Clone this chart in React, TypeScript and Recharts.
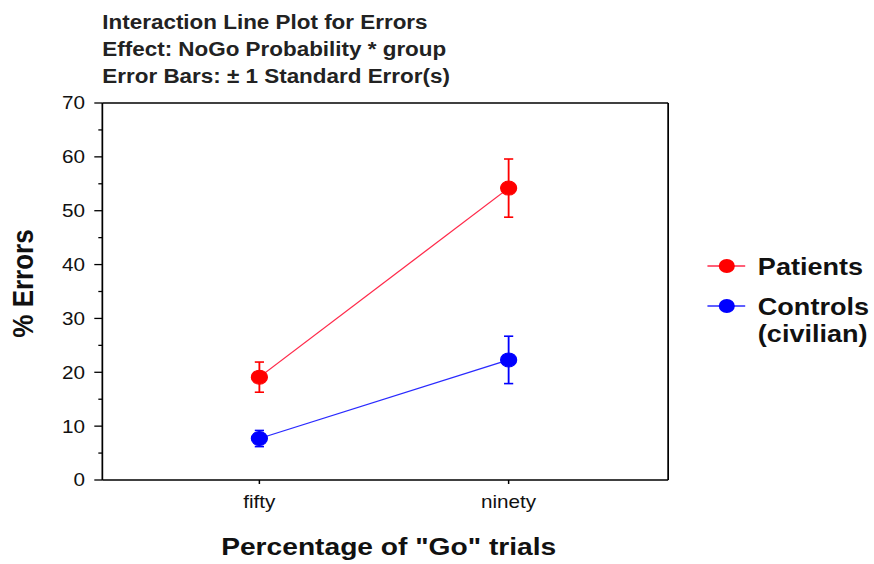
import React from 'react';
import { LineChart, Line, XAxis, YAxis, ErrorBar, Legend, Label } from 'recharts';

// the reference is a horizontally stretched picture, so the chart is drawn narrower and scaled in x
const STRETCH = 1.15;
const W = 874 / STRETCH;
const H = 564;

const categories = ['fifty', 'ninety'];
const categoryPos = [1, 2];
const patientsMean = [19.1, 54.2];
const patientsSE = [2.8, 5.4];
const controlsMean = [7.7, 22.3];
const controlsSE = [1.5, 4.4];
const yTicks = [0, 5, 10, 15, 20, 25, 30, 35, 40, 45, 50, 55, 60, 65, 70];
const seriesNames = ['Patients', 'Controls (civilian)'];
const seriesColors = ['#ff0000', '#0000ff'];
const lineColors = ['#ff2a4a', '#2a2aff'];
const titleLines = [
  'Interaction Line Plot for Errors',
  'Effect: NoGo Probability * group',
  'Error Bars: \u00b1 1 Standard Error(s)',
];

const data = categories.map((c, i) => ({
  x: categoryPos[i],
  name: c,
  patients: patientsMean[i],
  patientsErr: patientsSE[i],
  controls: controlsMean[i],
  controlsErr: controlsSE[i],
}));

const FONT = '"Liberation Sans", Arial, sans-serif';

const LeftTick = (props: any) => {
  const { x, y, payload } = props;
  const major = payload.value % 10 === 0;
  return (
    <g>
      <line x1={x - (major ? 7 : 3.5)} x2={x} y1={y} y2={y} stroke="#000" strokeWidth={1.3} />
      {major && (
        <text x={x - 15} y={y} dy={6.5} textAnchor="end" fontSize={18} fill="#111" fontFamily={FONT}>
          {payload.value}
        </text>
      )}
    </g>
  );
};

const RightTick = (props: any) => {
  const { x, y, payload } = props;
  const major = payload.value % 10 === 0;
  return <line x1={x} x2={x + (major ? 6 : 3.5)} y1={y} y2={y} stroke="#000" strokeWidth={1.3} />;
};

const LegendBox = () => (
  <div style={{ fontFamily: FONT }}>
    {seriesNames.map((n, i) => (
      <div key={n} style={{ display: 'flex', alignItems: 'flex-start', marginBottom: 13 }}>
        <svg width={44} height={27} style={{ flex: 'none' }}>
          <line x1={0} x2={33} y1={12} y2={12} stroke={lineColors[i]} strokeWidth={1.5} />
          <circle cx={17} cy={12} r={7} fill={seriesColors[i]} />
        </svg>
        <span style={{ fontWeight: 700, fontSize: 23.5, lineHeight: '27px', width: 104, color: '#111' }}>{n}</span>
      </div>
    ))}
  </div>
);

export default function App() {
  return (
    <div style={{ width: 874, height: 564, overflow: 'hidden', position: 'relative', background: '#fff' }}>
      <style>{'body{margin:0}'}</style>
      <div
        style={{
          width: W,
          height: H,
          position: 'relative',
          transform: `scaleX(${STRETCH})`,
          transformOrigin: '0 0',
          fontFamily: FONT,
        }}
      >
        <div style={{ position: 'absolute', left: 89, top: 9, fontSize: 19.5, fontWeight: 700, lineHeight: '27px', color: '#222', whiteSpace: 'nowrap' }}>
          {titleLines.map((t) => (
            <div key={t}>{t}</div>
          ))}
        </div>
        <LineChart width={W} height={H} data={data} margin={{ top: 95, right: 169, bottom: 44, left: 19 }}>
          <XAxis
            dataKey="x"
            type="number"
            domain={[0.37, 2.64]}
            ticks={categoryPos}
            tickFormatter={(v: number) => categories[categoryPos.indexOf(v)]}
            height={40}
            tickSize={4}
            tickMargin={11}
            interval={0}
            axisLine={{ stroke: '#000', strokeWidth: 1.5 }}
            tickLine={{ stroke: '#000', strokeWidth: 1.3 }}
            tick={{ fill: '#111', fontSize: 18, fontFamily: FONT }}
          >
            <Label
              content={(p: any) => (
                <text
                  x={p.viewBox.x + p.viewBox.width / 2 + 3}
                  y={555}
                  textAnchor="middle"
                  fontSize={24.5}
                  fontWeight={700}
                  fill="#111"
                  fontFamily={FONT}
                >
                  Percentage of "Go" trials
                </text>
              )}
            />
          </XAxis>
          <XAxis
            xAxisId="top"
            orientation="top"
            type="number"
            domain={[0.37, 2.64]}
            ticks={categoryPos}
            height={8}
            tickSize={4}
            tick={false}
            interval={0}
            axisLine={{ stroke: '#000', strokeWidth: 1.5 }}
            tickLine={{ stroke: '#000', strokeWidth: 1.3 }}
          />
          <YAxis
            domain={[0, 70]}
            ticks={yTicks}
            interval={0}
            width={70}
            tickSize={0}
            tickMargin={0}
            tickLine={false}
            tick={<LeftTick />}
            axisLine={{ stroke: '#000', strokeWidth: 1.5 }}
          >
            <Label
              content={(p: any) => {
                const cx = 20;
                const cy = p.viewBox.y + p.viewBox.height / 2 - 8;
                return (
                  <text
                    x={cx}
                    y={cy}
                    transform={`rotate(-90 ${cx} ${cy})`}
                    textAnchor="middle"
                    dominantBaseline="central"
                    fontSize={26}
                    fontWeight={700}
                    fill="#111"
                    fontFamily={FONT}
                  >
                    % Errors
                  </text>
                );
              }}
            />
          </YAxis>
          <YAxis
            yAxisId="right"
            orientation="right"
            domain={[0, 70]}
            ticks={yTicks}
            interval={0}
            width={10}
            tickSize={0}
            tickMargin={0}
            tickLine={false}
            tick={<RightTick />}
            axisLine={{ stroke: '#000', strokeWidth: 1.5 }}
          />
          <Legend
            layout="vertical"
            align="center"
            verticalAlign="middle"
            wrapperStyle={{ left: 615, top: 254, width: 152 }}
            content={() => <LegendBox />}
          />
          <Line
            dataKey="patients"
            name={seriesNames[0]}
            stroke={lineColors[0]}
            strokeWidth={1.2}
            dot={{ r: 7, fill: seriesColors[0], stroke: seriesColors[0], strokeWidth: 1 }}
            activeDot={false}
            isAnimationActive={false}
          >
            <ErrorBar dataKey="patientsErr" direction="y" width={4} stroke={seriesColors[0]} strokeWidth={1.6} isAnimationActive={false} />
          </Line>
          <Line
            dataKey="controls"
            name={seriesNames[1]}
            stroke={lineColors[1]}
            strokeWidth={1.2}
            dot={{ r: 7, fill: seriesColors[1], stroke: seriesColors[1], strokeWidth: 1 }}
            activeDot={false}
            isAnimationActive={false}
          >
            <ErrorBar dataKey="controlsErr" direction="y" width={4} stroke={seriesColors[1]} strokeWidth={1.6} isAnimationActive={false} />
          </Line>
        </LineChart>
      </div>
    </div>
  );
}
